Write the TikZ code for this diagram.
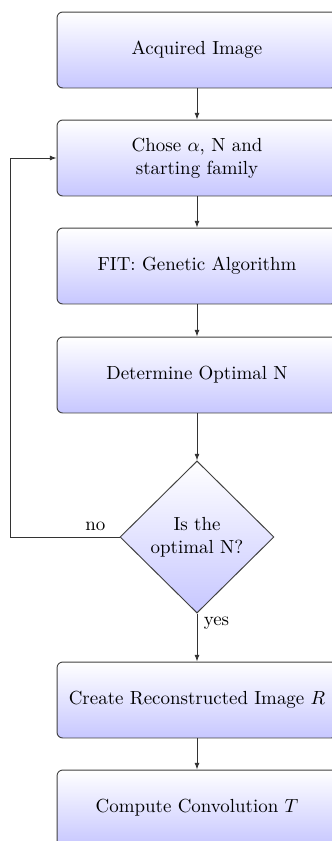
\documentclass[tikz,border=0pt]{standalone}
\usetikzlibrary{shapes.geometric,arrows.meta}
\begin{document}
\begin{tikzpicture}[x=0.528pt,y=-0.528pt,
  stepbox/.style={rectangle, rounded corners=3pt, draw=black!75, line width=0.5pt,
    top color=white, bottom color=blue!22, minimum width=147.8pt, minimum height=40.1pt,
    align=center, text width=140pt},
  decision/.style={diamond, draw=black!75, line width=0.5pt, top color=white,
    bottom color=blue!22, minimum width=81.3pt, minimum height=80.3pt, align=center,
    inner sep=0pt},
  flow/.style={draw=black!80, line width=0.5pt, -{Latex[length=3.5pt,width=2.6pt]}},
  plain/.style={draw=black!80, line width=0.5pt}]
  \useasboundingbox (0,0) rectangle (332,841);
  \clip (0,0) rectangle (332,841);

  \node[stepbox] (acq) at (197,50) {Acquired Image};
  \node[stepbox] (chose) at (197,158) {Chose $\alpha$, N and\\starting family};
  \node[stepbox] (fit) at (197,266) {FIT: Genetic Algorithm};
  \node[stepbox] (opt) at (197,375) {Determine Optimal N};
  \node[decision] (dec) at (197,537) {Is the\\optimal N?};
  \node[stepbox] (rec) at (197,700) {Create Reconstructed Image $R$};
  \node[stepbox] (conv) at (197,808) {Compute Convolution $T$};

  \coordinate (lb) at (10,537);
  \coordinate (lt) at (10,158);

  \path[flow] (acq) -- (chose);
  \path[flow] (chose) -- (fit);
  \path[flow] (fit) -- (opt);
  \path[flow] (opt) -- (dec);
  \path[flow] (dec) -- node[right, pos=0.2] {yes} (rec);
  \path[flow] (rec) -- (conv);
  \path[plain] (dec.west) -- node[above, pos=0.22] {no} (lb) -- (lt);
  \path[flow] (lt) -- (chose.west);
\end{tikzpicture}
\end{document}
